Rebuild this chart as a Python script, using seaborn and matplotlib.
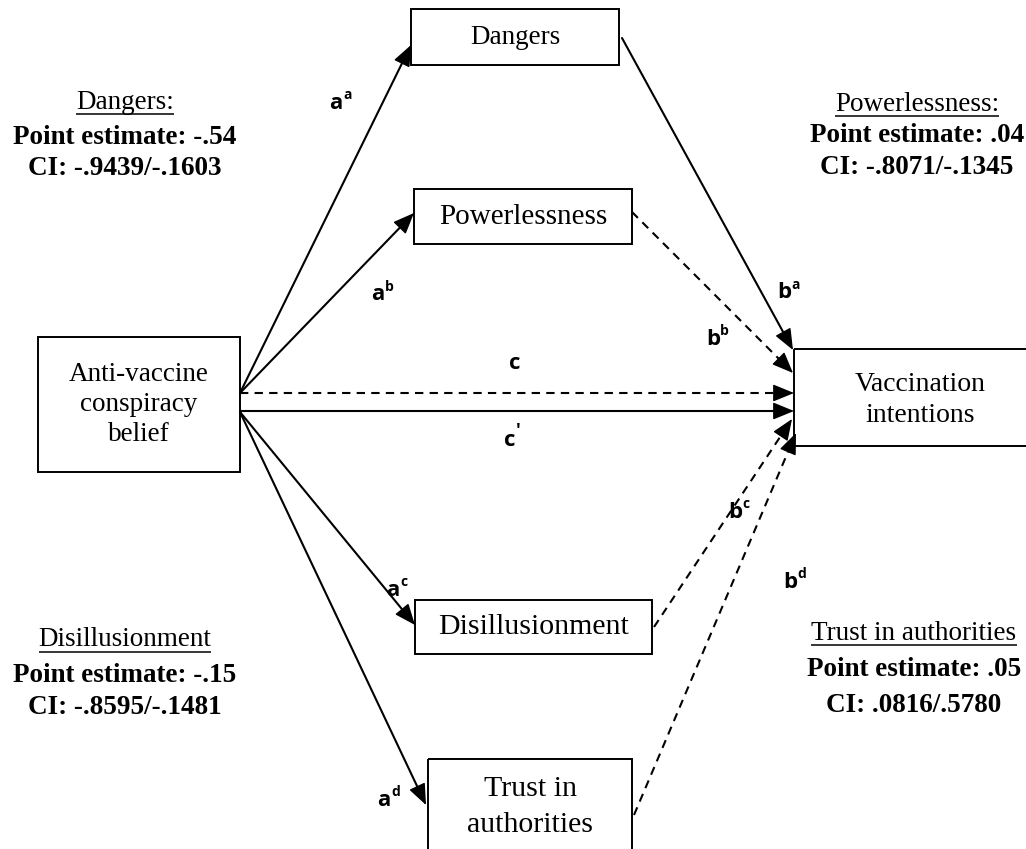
"""Mediation diagram: anti-vaccine conspiracy belief -> mediators -> vaccination intentions."""
import matplotlib
matplotlib.use('Agg')
import matplotlib.pyplot as plt
from matplotlib.patches import Rectangle
import seaborn as sns
import numpy as np

sns.set_theme(style='white')
plt.rcParams['font.family'] = ['Liberation Serif', 'DejaVu Serif']
plt.rcParams['text.color'] = 'black'

# data
predictor = 'Anti-vaccine\nconspiracy\nbelief'
outcome = 'Vaccination\nintentions'
mediators = ['Dangers', 'Powerlessness', 'Disillusionment', 'Trust in\nauthorities']
a_sup = ['a', 'b', 'c', 'd']
b_sup = ['a', 'b', 'c', 'd']
b_significant = [True, False, False, False]
effect_titles = ['Dangers:', 'Powerlessness:', 'Disillusionment', 'Trust in authorities']
point_estimates = ['-.54', '.04', '-.15', '.05']
ci_bounds = ['-.9439/-.1603', '-.8071/-.1345', '-.8595/-.1481', '.0816/.5780']

# layout (pixel space, y down)
W, H = 1026, 849
med_boxes = [(411, 9, 208, 56), (414, 189, 218, 55), (415, 600, 237, 54), (428, 759, 204, 100)]
med_fs = [19.5, 21, 21.5, 21.5]
med_text_y = [37, 217, 627, 807]
med_ls = [1.2, 1.2, 1.2, 1.47]
pred_box = (38, 337, 202, 135)
out_box = (794, 349, 252, 97)
a_start = [(240, 393), (240, 393), (240, 412), (240, 412)]
a_tip = [(411, 45), (414, 213), (415, 625), (426, 805)]
b_start = [(622, 38), (632, 212), (654, 627), (634, 815)]
b_tip = [(793, 350), (793, 373), (792, 419), (796, 433)]
a_lab = [(336, 103), (378, 295), (393, 590), (384, 800)]
b_lab = [(784, 293), (713, 339), (735, 512), (790, 582)]
# summary blocks: centre x, y of title, point estimate, CI
effect_x = [125, 917, 125, 914]
effect_y = [(102, 137, 168), (104, 135, 167), (640, 675, 708), (633, 670, 705)]

fig = plt.figure(figsize=(W / 100, H / 100), dpi=100)
ax = fig.add_axes([0, 0, 1, 1])
ax.set_xlim(0, W)
ax.set_ylim(H, 0)
ax.axis('off')

lab_font = ['Open Sans', 'DejaVu Sans']


def box(rect, text, fs, ty=None, ls=1.2):
    x, y, w, h = rect
    ax.add_patch(Rectangle((x, y), w, h, fill=False, ec='black', lw=1.4, clip_on=False))
    ax.text(x + w / 2, y + h / 2 if ty is None else ty, text, ha='center', va='center',
            fontsize=fs, linespacing=ls)


def arrow(p0, p1, dashed):
    p0, p1 = np.array(p0, float), np.array(p1, float)
    d = (p1 - p0) / np.linalg.norm(p1 - p0)
    back = p1 - d * 17
    ax.plot([p0[0], back[0]], [p0[1], back[1]], color='black', lw=1.5,
            ls=(0, (4, 3)) if dashed else '-')
    ax.annotate('', xy=tuple(p1), xytext=tuple(back),
                arrowprops=dict(arrowstyle='-|>,head_length=1.1,head_width=0.45',
                                color='black', lw=1, shrinkA=0, shrinkB=0))


def path_label(pos, base, sup):
    x, y = pos
    ax.text(x, y, base, fontsize=16, fontweight='bold', family=lab_font,
            ha='center', va='center')
    ax.text(x + 7, y - 8, sup, fontsize=10, fontweight='bold', family=lab_font,
            ha='left', va='center')


box(pred_box, predictor, 19.5, ls=1.26)
box(out_box, outcome, 20, ty=400, ls=1.34)
for i, name in enumerate(mediators):
    box(med_boxes[i], name, med_fs[i], med_text_y[i], ls=med_ls[i])
    arrow(a_start[i], a_tip[i], False)
    arrow(b_start[i], b_tip[i], not b_significant[i])
    path_label(a_lab[i], 'a', a_sup[i])
    path_label(b_lab[i], 'b', b_sup[i])

# total and direct effect
arrow((240, 393), (794, 393), True)
arrow((240, 411), (794, 411), False)
ax.text(515, 363, 'c', fontsize=16, fontweight='bold', family=lab_font, ha='center', va='center')
ax.text(510, 440, 'c', fontsize=16, fontweight='bold', family=lab_font, ha='center', va='center')
ax.text(516, 431, '\u2032', fontsize=13, fontweight='bold', family=lab_font, ha='left', va='center')

# indirect effect summaries
fig.canvas.draw()
renderer = fig.canvas.get_renderer()
inv = ax.transData.inverted()
for i in range(4):
    x = effect_x[i]
    y0, y1, y2 = effect_y[i]
    t = ax.text(x, y0, effect_titles[i], fontsize=19.5, ha='center', va='center')
    bb = t.get_window_extent(renderer)
    (xa, _), (xb, _) = inv.transform([(bb.x0, bb.y0), (bb.x1, bb.y0)])
    ax.plot([xa, xb], [y0 + 12, y0 + 12], color='black', lw=1.1, solid_capstyle='butt')
    ax.text(x, y1, 'Point estimate: ' + point_estimates[i], fontsize=19.5, fontweight='bold',
            ha='center', va='center')
    ax.text(x, y2, 'CI: ' + ci_bounds[i], fontsize=19.5, fontweight='bold',
            ha='center', va='center')

fig.savefig('out.png', dpi=100)
